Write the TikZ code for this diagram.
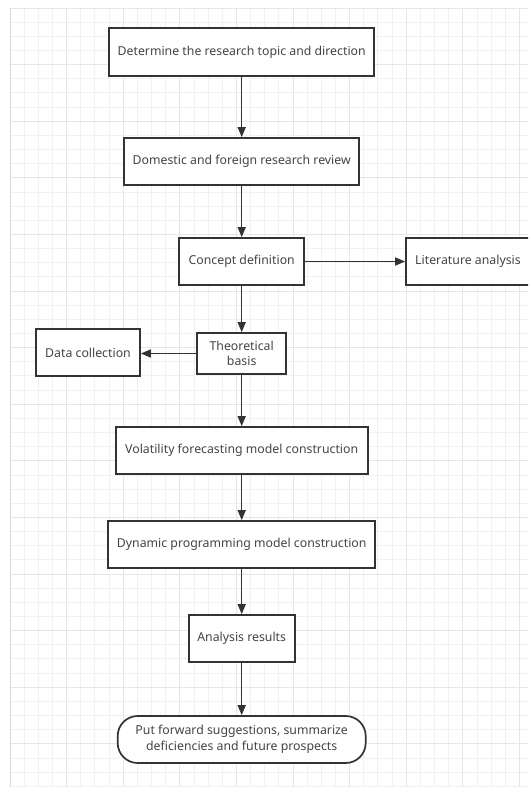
\documentclass[tikz,border=0pt]{standalone}
\usepackage{fontspec}
\setmainfont{Noto Sans}
\usetikzlibrary{arrows.meta}
\definecolor{minorgrid}{HTML}{F1F1F1}
\definecolor{majorgrid}{HTML}{E6E6E6}
\definecolor{edgegrid}{HTML}{DADADA}
\definecolor{ink}{HTML}{333333}
\definecolor{txt}{HTML}{444444}
\begin{document}
\begin{tikzpicture}[x=1pt,y=-1pt,
  box/.style={draw=ink, line width=1.7pt, fill=white, text=txt,
    font=\fontsize{12.3}{15.5}\selectfont, inner sep=0pt, align=center},
  arr/.style={draw=ink, line width=1.5pt, -{Triangle[length=10pt,width=8pt]}}]
\useasboundingbox (0,0) rectangle (528,787);
\clip (0,0) rectangle (528,787);
\fill[white] (0,0) rectangle (528,787);
% grid
\foreach \i in {0,...,37} {
  \draw[minorgrid, line width=0.9pt] ({10+14.15*\i},8) -- ({10+14.15*\i},787);
}
\foreach \j in {0,...,55} {
  \draw[minorgrid, line width=0.9pt] (10,{8+14.15*\j}) -- (528,{8+14.15*\j});
}
\foreach \i in {0,...,9} {
  \draw[majorgrid, line width=0.9pt] ({10+56.6*\i},8) -- ({10+56.6*\i},787);
}
\foreach \j in {0,...,13} {
  \draw[majorgrid, line width=0.9pt] (10,{8+56.6*\j}) -- (528,{8+56.6*\j});
}
\draw[edgegrid, line width=1pt] (10,8) -- (10,787);
% nodes
\node[box, minimum width=265pt, minimum height=48pt] (b1) at (241.7,52) {Determine the research topic and direction};
\node[box, minimum width=235pt, minimum height=47pt] (b2) at (241.7,161.5) {Domestic and foreign research review};
\node[box, minimum width=125pt, minimum height=47pt] (b3) at (241.7,261.5) {Concept definition};
\node[box, minimum width=124pt, minimum height=47pt] (b4) at (468,261.5) {Literature analysis};
\node[box, minimum width=89pt, minimum height=41pt] (b5) at (241.7,353.5) {Theoretical\\basis};
\node[box, minimum width=104pt, minimum height=47pt] (b6) at (88,352.5) {Data collection};
\node[box, minimum width=252pt, minimum height=47pt] (b7) at (241.7,450.5) {Volatility forecasting model construction};
\node[box, minimum width=267pt, minimum height=47pt] (b8) at (241.7,544.5) {Dynamic programming model construction};
\node[box, minimum width=106pt, minimum height=47pt] (b9) at (241.7,638.5) {Analysis results};
\node[box, rounded corners=20pt, minimum width=248pt, minimum height=47pt] (b10) at (241.7,739.5) {Put forward suggestions, summarize\\deficiencies and future prospects};
% connectors
\draw[arr] (b1) -- (b2);
\draw[arr] (b2) -- (b3);
\draw[arr] (b3) -- (b4);
\draw[arr] (b3) -- (b5);
\draw[arr] (b5.west) -- (b6.east |- b5.west);
\draw[arr] (b5) -- (b7);
\draw[arr] (b7) -- (b8);
\draw[arr] (b8) -- (b9);
\draw[arr] (b9) -- (b10);
\end{tikzpicture}
\end{document}
